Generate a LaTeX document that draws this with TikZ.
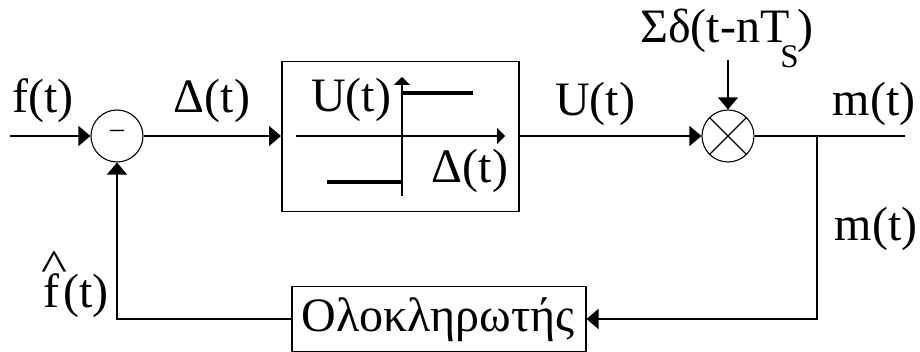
\documentclass[tikz,border=0pt]{standalone}
\usepackage{fontspec}
\setmainfont{Liberation Serif}
\usetikzlibrary{arrows.meta}
\tikzset{
  wire/.style={draw=black,line width=1.4pt},
  flow/.style={wire,-{Triangle[length=12pt,width=20pt]}},
  small/.style={wire,-{Triangle[length=8pt,width=16pt]}},
  lab/.style={inner sep=0pt,font=\fontsize{48}{48}\selectfont,anchor=base},
  sumnode/.style={circle,draw=black,line width=1.1pt,minimum size=52pt,inner sep=0pt},
  blockbox/.style={draw=black,line width=1.5pt,inner sep=0pt},
  thick seg/.style={draw=black,line width=3.4pt}
}
\begin{document}
\begin{tikzpicture}[x=1pt,y=-1pt]
\useasboundingbox (0,0) rectangle (920,352);
\node[sumnode] (sum) at (117,136) {};
\node[inner sep=0pt,font=\fontsize{28}{28}\selectfont] (minus) at (117,134) {–};
\node[sumnode] (mix) at (728,136) {};
\draw[line width=1.1pt] (mix.north west) -- (mix.south east) (mix.north east) -- (mix.south west);
\node[blockbox,minimum width=237pt,minimum height=150pt,anchor=north west] (relay) at (281,61) {};
\node[blockbox,minimum width=294pt,minimum height=65pt,anchor=north west] (integ) at (291,286) {};
\node[lab] (integlab) at (438,331) {Ολοκληρωτής};
\coordinate (in) at (10,136);
\coordinate (mtop) at (728,60);
\coordinate (junc) at (817,136);
\coordinate (out) at (905,136);
\coordinate (corner) at (817,319);
\coordinate (fbc) at (117,319);
\draw[flow] (in) -- (sum.west);
\draw[flow] (sum.east) -- (relay.west |- sum.east);
\draw[flow] (relay.east |- mix.west) -- (mix.west);
\draw[flow] (mtop) -- (mix.north);
\draw[wire] (mix.east) -- (out);
\draw[flow] (junc) -- (corner) -- (integ.east |- corner);
\draw[flow] (integ.west |- fbc) -- (fbc) -- (sum.south);
% inner characteristic
\coordinate (ax1) at (296,136); \coordinate (ax2) at (505,136);
\coordinate (ay1) at (402,196); \coordinate (ay2) at (402,77);
\draw[small] (ax1) -- (ax2);
\draw[small] (ay1) -- (ay2);
\coordinate (up) at (473,93); \coordinate (upo) at (402,93);
\coordinate (lo) at (327,182); \coordinate (loo) at (402,182);
\draw[thick seg] (upo) -- (up);
\draw[thick seg] (lo) -- (loo);
\node[lab] (lf) at (43,113) {f(t)};
\node[lab] (ld) at (212,113) {Δ(t)};
\node[lab] (lu) at (351,112) {U(t)};
\node[lab] (ld2) at (470,183) {Δ(t)};
\node[lab] (lu2) at (595,116) {U(t)};
\node[lab] (lm) at (874,116) {m(t)};
\node[lab] (lm2) at (876,241) {m(t)};
\node[lab,anchor=base west] (lh) at (43,308) {\rlap{\kern-2pt\raisebox{27pt}{\scalebox{1.15}[.92]{\symbol{"5E}}}}f\kern4pt(t)};
\node[lab,anchor=base west] (ls) at (640,43) {Σδ(t-nT\kern-9pt\raisebox{-25pt}{\fontsize{33}{33}\selectfont S}\kern-1pt)};
\end{tikzpicture}
\end{document}
